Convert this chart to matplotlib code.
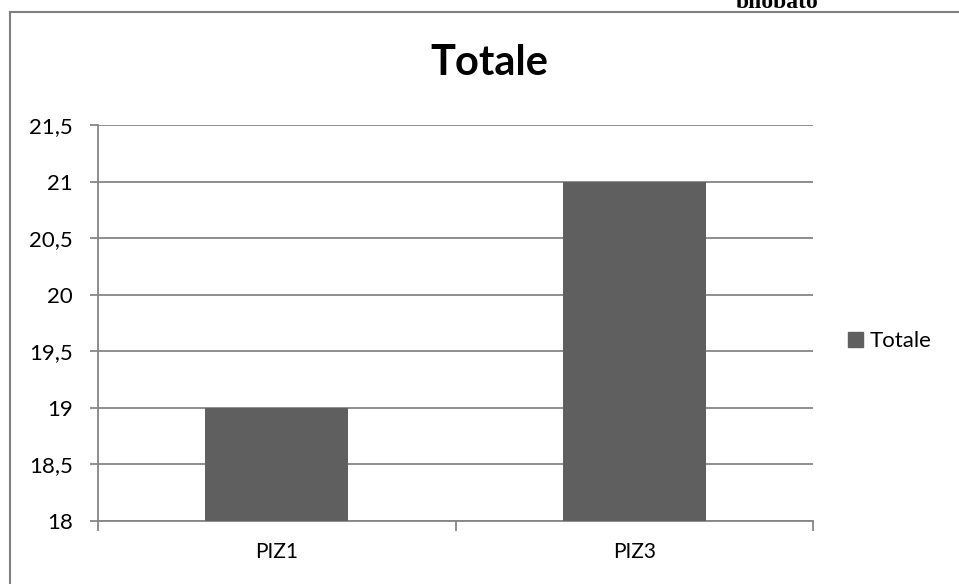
import matplotlib.pyplot as plt
from matplotlib.lines import Line2D
from matplotlib.patches import Patch

# chart data
categories = ['PIZ1', 'PIZ3']
totale = [19, 21]
y_ticks = [18, 18.5, 19, 19.5, 20, 20.5, 21, 21.5]
y_labels = ['18', '18,5', '19', '19,5', '20', '20,5', '21', '21,5']

plt.rcParams['font.family'] = ['Lato', 'DejaVu Sans']

fig = plt.figure(figsize=(9.59, 5.84), dpi=100)
ax = fig.add_axes([98/959, 1 - 521/584, 715/959, 396/584])

bar_color = '#5f5f5f'
grid_color = '#868686'

x = list(range(len(categories)))
ax.bar(x, totale, width=0.4, color=bar_color, zorder=3, label='Totale')

ax.set_xlim(-0.5, len(categories) - 0.5)
ax.set_ylim(18, 21.5)
ax.set_yticks(y_ticks)
ax.set_yticklabels(y_labels, fontsize=16)
ax.set_xticks(x)
ax.set_xticklabels(categories, fontsize=15)
ax.tick_params(axis='x', length=0, pad=15)
ax.tick_params(axis='y', length=6, width=1.3, color=grid_color, pad=12)
# boundary ticks on the category axis
ax.set_xticks([-0.5, 0.5, 1.5], minor=True)
ax.tick_params(axis='x', which='minor', length=7, width=1.3, color=grid_color)

ax.grid(axis='y', color=grid_color, linewidth=1.3, zorder=0)
for side in ['top', 'right']:
    ax.spines[side].set_visible(False)
ax.spines['left'].set_color(grid_color)
ax.spines['bottom'].set_color(grid_color)
ax.spines['left'].set_linewidth(1.3)
ax.spines['bottom'].set_linewidth(1.3)

fig.text(489/959, 1 - 63/584, 'Totale', fontsize=30,
         fontweight='bold', ha='center', va='center')

ax.legend(handles=[Patch(color=bar_color, label='Totale')], loc='center left',
          bbox_to_anchor=(848/959, 1 - 341/584), bbox_transform=fig.transFigure,
          frameon=False, fontsize=16, borderpad=0, borderaxespad=0,
          handlelength=0.68, handleheight=0.68, handletextpad=0.3)

# outer frame of the embedded chart
fig.add_artist(Line2D([10/959, 10/959], [0, 1 - 12/584], color='#808080', lw=1.5))
fig.add_artist(Line2D([10/959, 1], [1 - 12/584, 1 - 12/584], color='#808080', lw=1.5))

# clipped caption text from the document above
fig.text(777/959, 1 - 2/584, 'bilobato', fontsize=17, fontweight='bold',
         family='Liberation Serif', ha='center', va='center')

fig.savefig('out.png', dpi=100)
